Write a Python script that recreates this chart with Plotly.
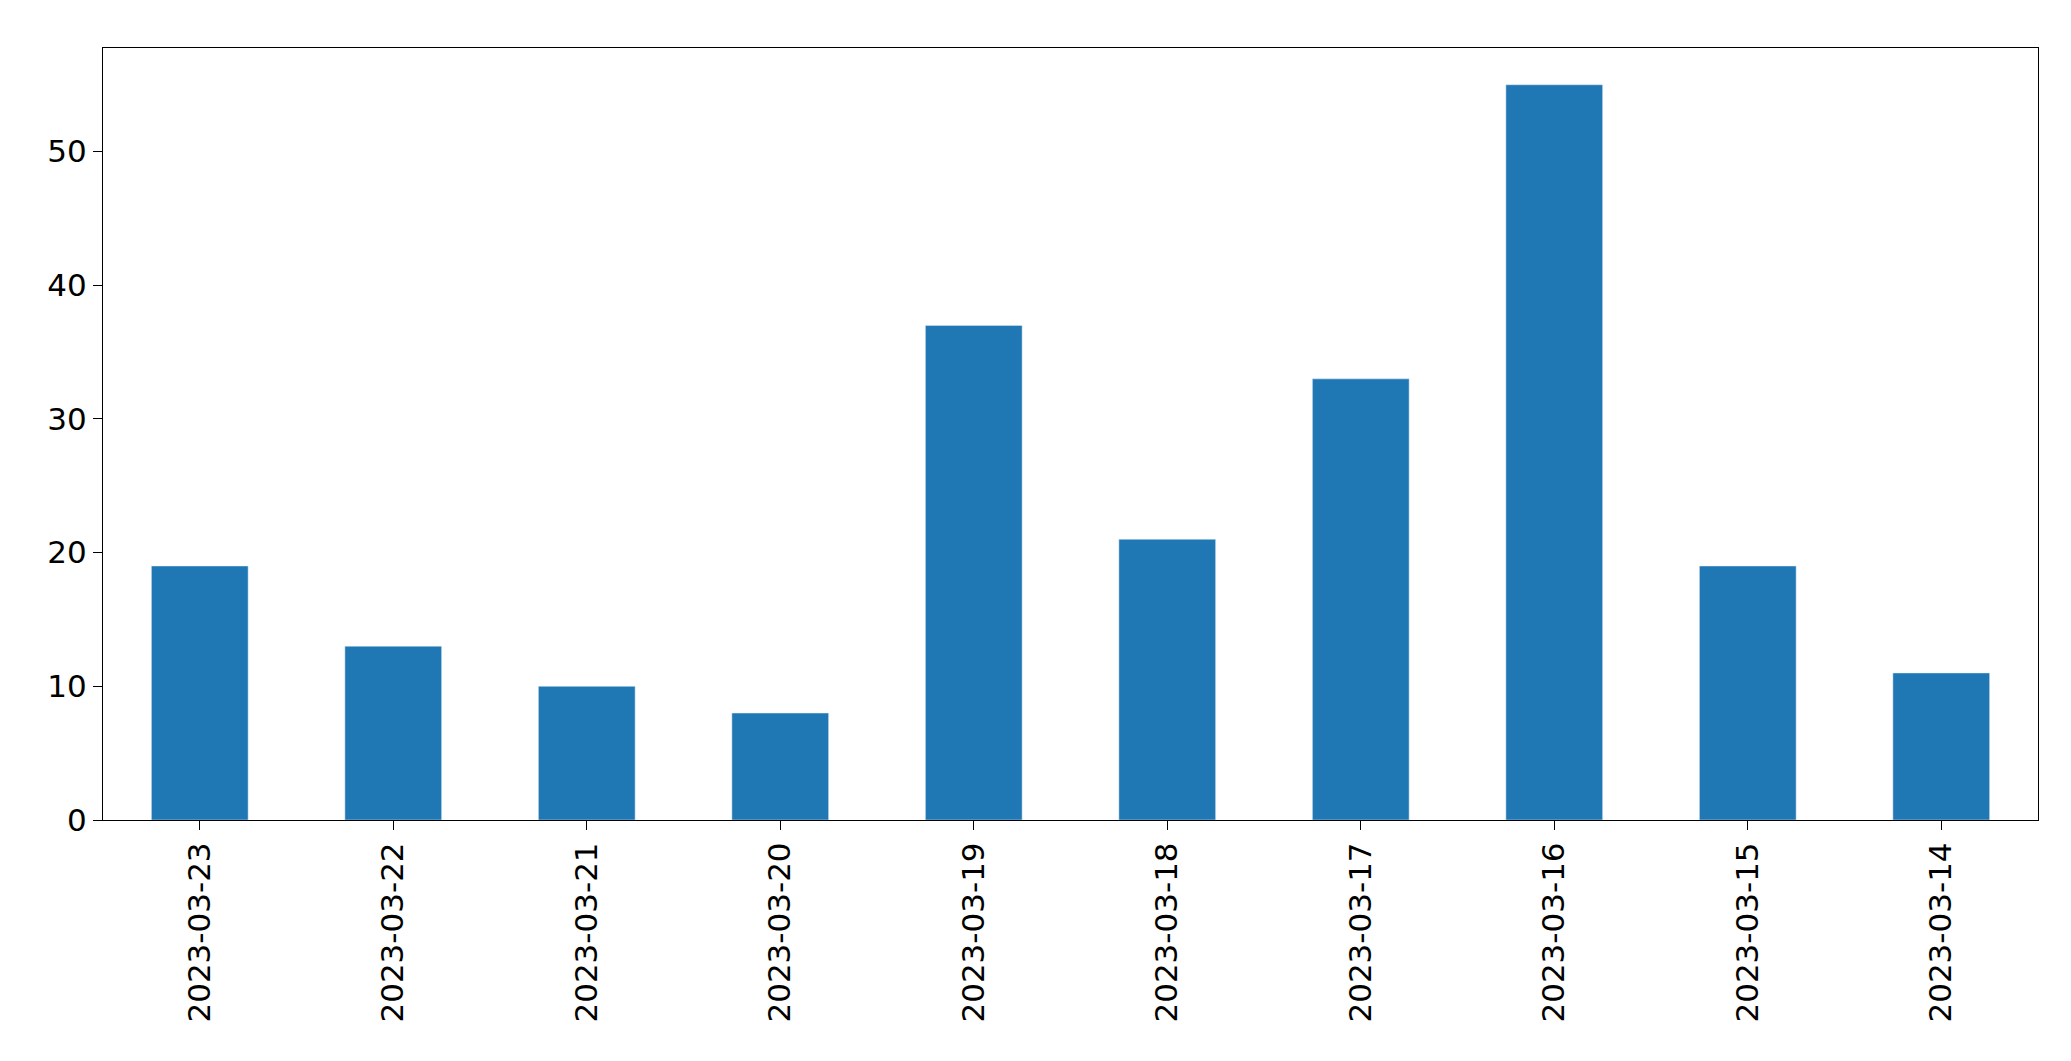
import plotly.graph_objects as go

dates = ["2023-03-23","2023-03-22","2023-03-21","2023-03-20","2023-03-19",
         "2023-03-18","2023-03-17","2023-03-16","2023-03-15","2023-03-14"]
counts = [19, 13, 10, 8, 37, 21, 33, 55, 19, 11]

fig = go.Figure(go.Bar(x=dates, y=counts, marker_color="#1f77b4", width=0.5))
fig.update_layout(
    width=2071, height=1061, plot_bgcolor="white", paper_bgcolor="white",
    margin=dict(l=95, r=41, t=40, b=249), showlegend=False,
    font=dict(family="DejaVu Sans", size=31, color="black"),
)
fig.update_xaxes(type="category", tickangle=-90, showline=True, linecolor="black",
                 mirror=True, ticks="outside", ticklen=9, tickcolor="black",
                 range=[-0.5, 9.5])
fig.update_yaxes(range=[0, 57.75], showline=True, linecolor="black", mirror=True,
                 ticks="outside", ticklen=9, tickcolor="black", showgrid=False,
                 zeroline=False, tickvals=[0,10,20,30,40,50])
fig.write_html("out.html")
